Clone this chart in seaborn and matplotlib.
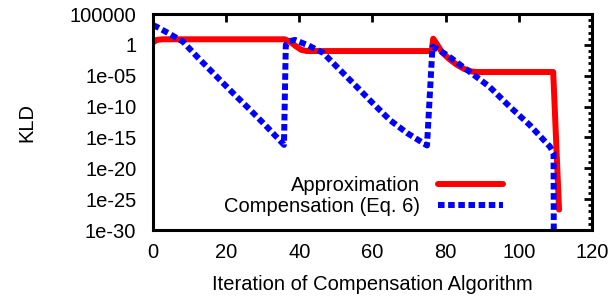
import numpy as np
import pandas as pd
import matplotlib
matplotlib.use("Agg")
import matplotlib.pyplot as plt
from matplotlib.ticker import LogLocator, FixedLocator, NullFormatter
import seaborn as sns

# values (KLD is on a log axis)
approx_iter = [0, 1, 2.5, 36, 37.5, 39, 40.5, 42, 76.2, 76.6, 77.5, 79, 81, 83,
               85, 87, 88.5, 109.4, 111.0]
approx_kld = [2.5, 6.3, 8.0, 8.0, 3.2, 0.63, 0.16, 0.1, 0.1, 10.0, 1.6, 0.063,
              5e-3, 6.3e-4, 1.3e-4, 5e-5, 4e-5, 4e-5, 2e-27]

comp_iter = [0, 1.1, 4.5, 8.2, 12.5, 17.5, 22, 26.5, 31, 35.8, 36.3, 37.3, 38.8,
             42.5, 46.5, 51, 55.7, 60, 64.8, 69.5, 74.9, 76.4, 77.5, 80.5, 83.9,
             88, 92, 97.5, 103, 108.5, 109.5, 109.6]
comp_kld = [1600, 800, 63, 3.2, 6.3e-3, 6.3e-6, 1.3e-8, 3.2e-11, 6.3e-14, 6.3e-17,
            1.0, 4.0, 6.3, 0.8, 0.05, 1e-4, 1.6e-7, 4e-10, 6.3e-13, 5e-15, 5e-17,
            0.5, 0.25, 0.02, 6.3e-4, 1e-5, 1.6e-7, 1e-10, 1e-13, 3.2e-17, 3.2e-18,
            1e-40]

xticks = [0, 20, 40, 60, 80, 100, 120]
yticks = [1e5, 1, 1e-5, 1e-10, 1e-15, 1e-20, 1e-25, 1e-30]
ytick_labels = ["100000", "1", "1e-05", "1e-10", "1e-15", "1e-20", "1e-25", "1e-30"]

sns.set_theme(style="white")
plt.rcParams["font.family"] = ["Liberation Sans", "DejaVu Sans"]
plt.rcParams["font.size"] = 14.5
plt.rcParams["text.color"] = "black"
plt.rcParams["axes.labelcolor"] = "black"

df_a = pd.DataFrame({"iteration": approx_iter, "kld": approx_kld})
df_c = pd.DataFrame({"iteration": comp_iter, "kld": comp_kld})

fig = plt.figure(figsize=(6.13, 3.02), dpi=100)
ax = fig.add_axes([0.2496, 0.2384, 0.7161, 0.7152])

sns.lineplot(data=df_a, x="iteration", y="kld", ax=ax, color="#ff0000",
             linewidth=4.3, label="Approximation", sort=False, estimator=None)
sns.lineplot(data=df_c, x="iteration", y="kld", ax=ax, color="#0000ff",
             linewidth=4.3, label="Compensation (Eq. 6)", sort=False,
             estimator=None)
ax.lines[1].set_dashes([1.1, 0.6])
ax.lines[1].set_dash_capstyle("butt")

ax.set_yscale("log")
ax.set_xlim(0, 120)
ax.set_ylim(1e-30, 1e5)

ax.xaxis.set_major_locator(FixedLocator(xticks))
ax.yaxis.set_major_locator(FixedLocator(yticks))
ax.set_yticklabels(ytick_labels)
ax.yaxis.set_minor_locator(LogLocator(base=10, subs=(1.0,), numticks=60))
ax.yaxis.set_minor_formatter(NullFormatter())

ax.tick_params(which="both", direction="in", top=True, right=True,
               width=2.0, colors="black", labelsize=14.5)
ax.tick_params(axis="x", which="major", length=6, pad=9)
ax.tick_params(axis="y", which="major", length=6, pad=12)
ax.tick_params(which="minor", length=3)

for sp in ax.spines.values():
    sp.set_linewidth(2.2)
    sp.set_color("black")

ax.set_xlabel("Iteration of Compensation Algorithm", fontsize=14.5, labelpad=10)
ax.set_ylabel("KLD", fontsize=14.5, labelpad=24)

leg = ax.legend(loc="lower right", bbox_to_anchor=(0.838, -0.02), frameon=False,
                markerfirst=False, handlelength=3.2, handletextpad=0.9,
                labelspacing=0.12, fontsize=14.5)
for t in leg.get_texts():
    t.set_color("black")

fig.savefig("out.png", dpi=100)
